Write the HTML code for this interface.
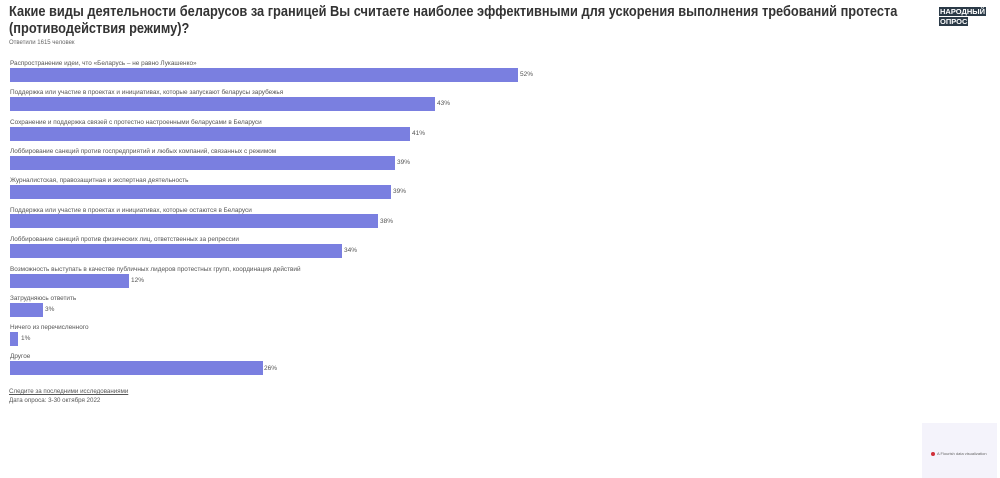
<!DOCTYPE html>
<html><head><meta charset="utf-8"><style>
body{margin:0;width:1000px;height:478px;background:#fff;font-family:"Liberation Sans","DejaVu Sans",sans-serif;position:relative;overflow:hidden;color:#333}
.t{position:absolute;left:9px;top:4px;font-size:14.5px;font-weight:bold;line-height:17px;color:#333;white-space:nowrap;transform:scaleX(0.883);transform-origin:left top}
.s{position:absolute;left:9px;top:40px;font-size:6px;color:#666}
.l{position:absolute;left:10px;font-size:6.4px;color:#555;white-space:nowrap}
.b{position:absolute;left:10px;height:14px;background:#7a7fe0}
.v{position:absolute;font-size:6.5px;color:#555}
.logo{position:absolute;left:939px;top:7px;font-size:7.5px;font-weight:bold;color:#fff;line-height:9px}
.logo span{background:#2b3a47;padding:0 1px;display:inline-block;margin-bottom:1px}
.f{position:absolute;left:9px;font-size:6.2px;color:#555}
.fl{position:absolute;left:922px;top:423px;width:75px;height:55px;background:#f4f3fb}
</style></head><body>
<div class="t">Какие виды деятельности беларусов за границей Вы считаете наиболее эффективными для ускорения выполнения требований протеста<br>(противодействия режиму)?</div>
<div class="s">Ответили 1615 человек</div>
<div class="logo"><span>НАРОДНЫЙ</span><br><span>ОПРОС</span></div>

<div class="l" style="top:60px">Распространение идеи, что «Беларусь – не равно Лукашенко»</div>
<div class="b" style="top:68px;width:508px"></div><div class="v" style="top:71px;left:520px">52%</div>

<div class="l" style="top:89px">Поддержка или участие в проектах и инициативах, которые запускают беларусы зарубежья</div>
<div class="b" style="top:97px;width:425px"></div><div class="v" style="top:100px;left:437px">43%</div>

<div class="l" style="top:119px">Сохранение и поддержка связей с протестно настроенными беларусами в Беларуси</div>
<div class="b" style="top:127px;width:400px"></div><div class="v" style="top:130px;left:412px">41%</div>

<div class="l" style="top:148px">Лоббирование санкций против госпредприятий и любых компаний, связанных с режимом</div>
<div class="b" style="top:156px;width:385px"></div><div class="v" style="top:159px;left:397px">39%</div>

<div class="l" style="top:177px">Журналистская, правозащитная и экспертная деятельность</div>
<div class="b" style="top:185px;width:381px"></div><div class="v" style="top:188px;left:393px">39%</div>

<div class="l" style="top:207px">Поддержка или участие в проектах и инициативах, которые остаются в Беларуси</div>
<div class="b" style="top:214px;width:368px"></div><div class="v" style="top:218px;left:380px">38%</div>

<div class="l" style="top:236px">Лоббирование санкций против физических лиц, ответственных за репрессии</div>
<div class="b" style="top:244px;width:332px"></div><div class="v" style="top:247px;left:344px">34%</div>

<div class="l" style="top:266px">Возможность выступать в качестве публичных лидеров протестных групп, координация действий</div>
<div class="b" style="top:274px;width:119px"></div><div class="v" style="top:277px;left:131px">12%</div>

<div class="l" style="top:295px">Затрудняюсь ответить</div>
<div class="b" style="top:303px;width:33px"></div><div class="v" style="top:306px;left:45px">3%</div>

<div class="l" style="top:324px">Ничего из перечисленного</div>
<div class="b" style="top:332px;width:8px"></div><div class="v" style="top:335px;left:21px">1%</div>

<div class="l" style="top:353px">Другое</div>
<div class="b" style="top:361px;width:253px"></div><div class="v" style="top:365px;left:264px">26%</div>

<div class="f" style="top:388px;text-decoration:underline">Следите за последними исследованиями</div>
<div class="f" style="top:397px">Дата опроса: 3-30 октября 2022</div>
<div class="fl"><div style="position:absolute;left:9px;top:29px;width:4px;height:4px;border-radius:50%;background:#d0303a"></div><div style="position:absolute;left:15px;top:28px;font-size:4px;color:#666">A Flourish data visualization</div></div>
</body></html>
